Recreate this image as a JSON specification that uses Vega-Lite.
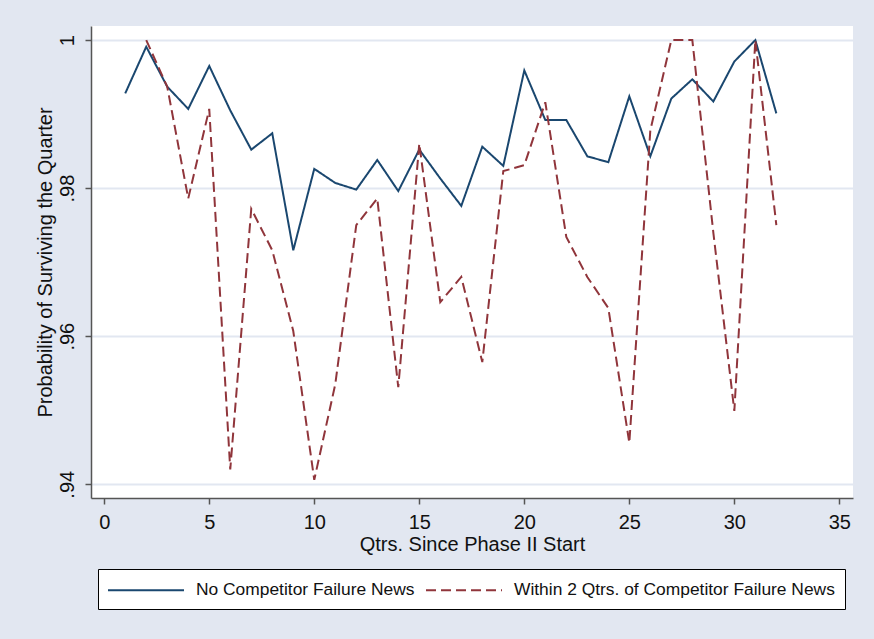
{
  "$schema": "https://vega.github.io/schema/vega-lite/v6.json",
  "width": 762,
  "height": 472,
  "autosize": {"type": "none"},
  "padding": {"left": 91, "top": 26, "right": 21, "bottom": 141},
  "background": "#e2e7f1",
  "config": {
    "font": "Liberation Sans",
    "view": {"fill": "white", "stroke": null}
  },
  "data": {
    "values": [
      {"q": 1, "s": "No Competitor Failure News", "p": 0.9928},
      {"q": 2, "s": "No Competitor Failure News", "p": 0.9991},
      {"q": 3, "s": "No Competitor Failure News", "p": 0.9937},
      {"q": 4, "s": "No Competitor Failure News", "p": 0.9907},
      {"q": 5, "s": "No Competitor Failure News", "p": 0.9965},
      {"q": 6, "s": "No Competitor Failure News", "p": 0.9905},
      {"q": 7, "s": "No Competitor Failure News", "p": 0.9852},
      {"q": 8, "s": "No Competitor Failure News", "p": 0.9874},
      {"q": 9, "s": "No Competitor Failure News", "p": 0.9716},
      {"q": 10, "s": "No Competitor Failure News", "p": 0.9826},
      {"q": 11, "s": "No Competitor Failure News", "p": 0.9807},
      {"q": 12, "s": "No Competitor Failure News", "p": 0.9798},
      {"q": 13, "s": "No Competitor Failure News", "p": 0.9838},
      {"q": 14, "s": "No Competitor Failure News", "p": 0.9796},
      {"q": 15, "s": "No Competitor Failure News", "p": 0.9852},
      {"q": 16, "s": "No Competitor Failure News", "p": 0.9813},
      {"q": 17, "s": "No Competitor Failure News", "p": 0.9776},
      {"q": 18, "s": "No Competitor Failure News", "p": 0.9856},
      {"q": 19, "s": "No Competitor Failure News", "p": 0.983},
      {"q": 20, "s": "No Competitor Failure News", "p": 0.9959},
      {"q": 21, "s": "No Competitor Failure News", "p": 0.9892},
      {"q": 22, "s": "No Competitor Failure News", "p": 0.9892},
      {"q": 23, "s": "No Competitor Failure News", "p": 0.9843},
      {"q": 24, "s": "No Competitor Failure News", "p": 0.9835},
      {"q": 25, "s": "No Competitor Failure News", "p": 0.9924},
      {"q": 26, "s": "No Competitor Failure News", "p": 0.9843},
      {"q": 27, "s": "No Competitor Failure News", "p": 0.9921},
      {"q": 28, "s": "No Competitor Failure News", "p": 0.9947},
      {"q": 29, "s": "No Competitor Failure News", "p": 0.9917},
      {"q": 30, "s": "No Competitor Failure News", "p": 0.9971},
      {"q": 31, "s": "No Competitor Failure News", "p": 1.0},
      {"q": 32, "s": "No Competitor Failure News", "p": 0.9901},
      {"q": 2, "s": "Within 2 Qtrs. of Competitor Failure News", "p": 1.0},
      {"q": 3, "s": "Within 2 Qtrs. of Competitor Failure News", "p": 0.9937},
      {"q": 4, "s": "Within 2 Qtrs. of Competitor Failure News", "p": 0.9786},
      {"q": 5, "s": "Within 2 Qtrs. of Competitor Failure News", "p": 0.9907},
      {"q": 6, "s": "Within 2 Qtrs. of Competitor Failure News", "p": 0.942},
      {"q": 7, "s": "Within 2 Qtrs. of Competitor Failure News", "p": 0.9772},
      {"q": 8, "s": "Within 2 Qtrs. of Competitor Failure News", "p": 0.9716},
      {"q": 9, "s": "Within 2 Qtrs. of Competitor Failure News", "p": 0.9607},
      {"q": 10, "s": "Within 2 Qtrs. of Competitor Failure News", "p": 0.9406},
      {"q": 11, "s": "Within 2 Qtrs. of Competitor Failure News", "p": 0.9535},
      {"q": 12, "s": "Within 2 Qtrs. of Competitor Failure News", "p": 0.975},
      {"q": 13, "s": "Within 2 Qtrs. of Competitor Failure News", "p": 0.9786},
      {"q": 14, "s": "Within 2 Qtrs. of Competitor Failure News", "p": 0.9531},
      {"q": 15, "s": "Within 2 Qtrs. of Competitor Failure News", "p": 0.986},
      {"q": 16, "s": "Within 2 Qtrs. of Competitor Failure News", "p": 0.9646},
      {"q": 17, "s": "Within 2 Qtrs. of Competitor Failure News", "p": 0.968},
      {"q": 18, "s": "Within 2 Qtrs. of Competitor Failure News", "p": 0.9565},
      {"q": 19, "s": "Within 2 Qtrs. of Competitor Failure News", "p": 0.9823},
      {"q": 20, "s": "Within 2 Qtrs. of Competitor Failure News", "p": 0.9831},
      {"q": 21, "s": "Within 2 Qtrs. of Competitor Failure News", "p": 0.9916},
      {"q": 22, "s": "Within 2 Qtrs. of Competitor Failure News", "p": 0.9734},
      {"q": 23, "s": "Within 2 Qtrs. of Competitor Failure News", "p": 0.968},
      {"q": 24, "s": "Within 2 Qtrs. of Competitor Failure News", "p": 0.9638},
      {"q": 25, "s": "Within 2 Qtrs. of Competitor Failure News", "p": 0.9456},
      {"q": 26, "s": "Within 2 Qtrs. of Competitor Failure News", "p": 0.9878},
      {"q": 27, "s": "Within 2 Qtrs. of Competitor Failure News", "p": 1.0},
      {"q": 28, "s": "Within 2 Qtrs. of Competitor Failure News", "p": 1.0},
      {"q": 29, "s": "Within 2 Qtrs. of Competitor Failure News", "p": 0.974},
      {"q": 30, "s": "Within 2 Qtrs. of Competitor Failure News", "p": 0.9499},
      {"q": 31, "s": "Within 2 Qtrs. of Competitor Failure News", "p": 1.0},
      {"q": 32, "s": "Within 2 Qtrs. of Competitor Failure News", "p": 0.975}
    ]
  },
  "mark": {"type": "line", "strokeWidth": 2, "clip": false},
  "encoding": {
    "x": {
      "field": "q",
      "type": "quantitative",
      "scale": {"domain": [-0.63, 35.65], "nice": false, "zero": false},
      "axis": {
        "title": "Qtrs. Since Phase II Start",
        "values": [0, 5, 10, 15, 20, 25, 30, 35],
        "grid": false,
        "domainColor": "#555555",
        "domainWidth": 1.5,
        "tickColor": "#555555",
        "tickWidth": 1.5,
        "tickSize": 6,
        "labelFont": "Liberation Sans",
        "labelFontSize": 20,
        "labelColor": "#111111",
        "labelPadding": 8,
        "titleFont": "Liberation Sans",
        "titleFontSize": 20,
        "titleFontWeight": "normal",
        "titleColor": "#111111",
        "titlePadding": 2
      }
    },
    "y": {
      "field": "p",
      "type": "quantitative",
      "scale": {"domain": [0.93814, 1.0019], "nice": false, "zero": false},
      "axis": {
        "title": "Probability of Surviving the Quarter",
        "values": [0.94, 0.96, 0.98, 1],
        "labelExpr": "datum.value >= 0.9999 ? '1' : replace(format(datum.value, '.2f'), '0.', '.')",
        "labelAngle": -90,
        "labelAlign": "center",
        "labelBaseline": "bottom",
        "grid": true,
        "gridColor": "#e2e7f1",
        "gridWidth": 2,
        "domainColor": "#555555",
        "domainWidth": 1.5,
        "tickColor": "#555555",
        "tickWidth": 1.5,
        "tickSize": 6,
        "labelFont": "Liberation Sans",
        "labelFontSize": 20,
        "labelColor": "#111111",
        "labelPadding": 8,
        "titleFont": "Liberation Sans",
        "titleFontSize": 20,
        "titleFontWeight": "normal",
        "titleColor": "#111111",
        "titlePadding": 2
      }
    },
    "color": {
      "field": "s",
      "type": "nominal",
      "scale": {
        "domain": ["No Competitor Failure News", "Within 2 Qtrs. of Competitor Failure News"],
        "range": ["#1a476f", "#90353b"]
      },
      "legend": {
        "title": null,
        "orient": "none",
        "legendX": 7,
        "legendY": 543,
        "direction": "horizontal",
        "columns": 2,
        "symbolType": "M-1.1,0H6.5",
        "symbolSize": 400,
        "symbolStrokeWidth": 2,
        "symbolFillColor": "transparent",
        "labelFont": "Liberation Sans",
        "labelFontSize": 17.4,
        "labelColor": "#111111",
        "labelLimit": 500,
        "labelOffset": 66,
        "columnPadding": 7,
        "padding": 10,
        "strokeColor": "#000000",
        "fillColor": "#ffffff",
        "cornerRadius": 0
      }
    },
    "strokeDash": {
      "field": "s",
      "type": "nominal",
      "scale": {
        "domain": ["No Competitor Failure News", "Within 2 Qtrs. of Competitor Failure News"],
        "range": [[1, 0], [10, 5]]
      },
      "legend": null
    }
  }
}
